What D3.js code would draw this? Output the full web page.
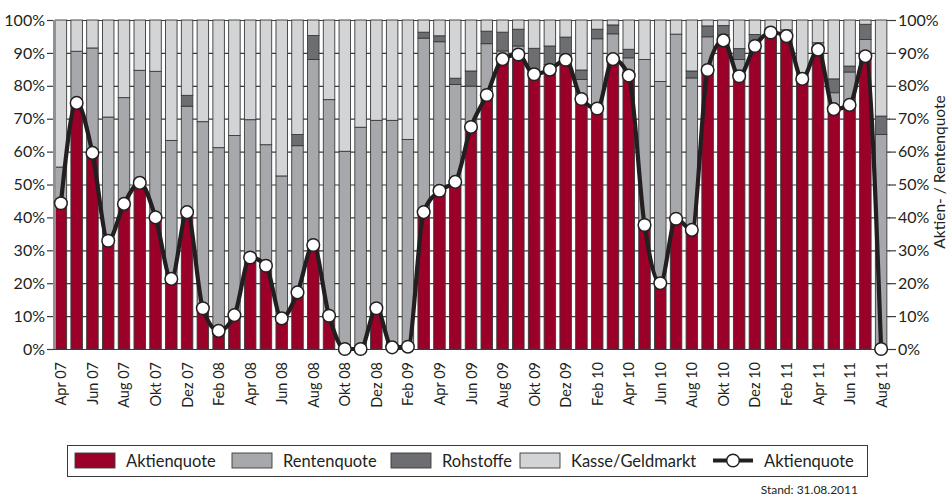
<!DOCTYPE html>
<html>
<head>
<meta charset="utf-8">
<script src="https://cdn.jsdelivr.net/npm/d3@7"></script>
<style>
  body { margin: 0; background: #fff; }
  svg text { font-family: Lato, "Open Sans", sans-serif; fill: #231f20; }
</style>
</head>
<body>
<div id="chart"></div>
<script>
// monthly values, Apr 07 .. Aug 11
var months = ["Apr 07","Mai 07","Jun 07","Jul 07","Aug 07","Sep 07","Okt 07","Nov 07","Dez 07",
  "Jan 08","Feb 08","Mrz 08","Apr 08","Mai 08","Jun 08","Jul 08","Aug 08","Sep 08","Okt 08","Nov 08","Dez 08",
  "Jan 09","Feb 09","Mrz 09","Apr 09","Mai 09","Jun 09","Jul 09","Aug 09","Sep 09","Okt 09","Nov 09","Dez 09",
  "Jan 10","Feb 10","Mrz 10","Apr 10","Mai 10","Jun 10","Jul 10","Aug 10","Sep 10","Okt 10","Nov 10","Dez 10",
  "Jan 11","Feb 11","Mrz 11","Apr 11","Mai 11","Jun 11","Jul 11","Aug 11"];

var aktien = [44.3,74.8,59.6,32.9,44.1,50.5,40.0,21.3,41.6,
  12.4,5.5,10.3,27.8,25.3,9.3,17.2,31.6,10.1,0,0,12.4,
  0.5,0.7,41.6,48.1,50.8,67.5,77.2,88.1,89.5,83.5,84.9,87.9,
  76.0,73.1,88.1,83.1,37.7,20.0,39.6,36.2,84.8,93.8,82.9,92.1,
  96.2,95.1,82.1,91.0,72.9,74.2,89.0,0];

var renten = [11.0,15.7,31.9,37.6,32.3,34.2,44.4,42.1,32.2,
  56.7,55.7,54.6,41.9,36.8,43.3,44.6,56.4,65.7,60.1,67.4,57.1,
  69.0,63.0,52.9,45.3,29.6,12.4,15.6,2.5,2.6,1.0,1.6,0.6,
  5.9,21.2,7.7,5.4,50.3,61.3,56.1,46.2,10.1,1.7,5.1,1.0,
  1.3,1.9,1.0,2.1,5.0,10.0,5.1,65.2];

var rohstoffe = [0,0,0,0,0,0,0,0,3.3,
  0,0,0,0,0,0,3.4,7.3,0,0,0,0,
  0,0,1.8,1.8,1.9,4.6,3.8,5.7,5.1,6.9,5.6,6.3,
  2.9,2.9,2.7,2.6,0,0,0,2.1,3.3,2.8,3.3,2.5,
  0,0,0,0,4.2,1.8,4.6,5.6];

var kasse = [44.7,9.5,8.5,29.5,23.6,15.3,15.6,36.6,22.9,
  30.9,38.8,35.1,30.3,37.9,47.4,34.8,4.7,24.2,39.9,32.6,30.5,
  30.5,36.3,3.7,4.8,17.7,15.5,3.4,3.7,2.8,8.6,7.9,5.2,
  15.2,2.8,1.5,8.9,12.0,18.7,4.3,15.5,1.8,1.7,8.7,4.4,
  2.5,3.0,16.9,6.9,17.9,14.0,1.3,29.2];

var seriesNames = ["Aktienquote","Rentenquote","Rohstoffe","Kasse/Geldmarkt"];
var seriesColors = ["#9b0029","#a6a8ab","#6d6e71","#d3d4d6"];
var yTicks = [0,10,20,30,40,50,60,70,80,90,100];

var width = 952, height = 498;
var svg = d3.select("#chart").append("svg")
  .attr("width", width)
  .attr("height", height);

var x = d3.scaleBand()
  .domain(months)
  .range([53, 889])
  .paddingInner(0.27)
  .paddingOuter(0.135);

var y = d3.scaleLinear()
  .domain([0, 100])
  .range([349, 20]);

// gridlines behind the bars
svg.append("g")
  .selectAll("line")
  .data(yTicks)
  .enter()
  .append("line")
  .attr("x1", 53).attr("x2", 890)
  .attr("y1", function (d) { return y(d) + 0.5; })
  .attr("y2", function (d) { return y(d) + 0.5; })
  .style("stroke", "#3b3b3b")
  .style("stroke-width", 1.2);

// stacked bars
var table = months.map(function (m, i) {
  return { month: m, a: aktien[i], r: renten[i], s: rohstoffe[i], k: kasse[i] };
});
var stack = d3.stack().keys(["a","r","s","k"])(table);

svg.append("g")
  .selectAll("g")
  .data(stack)
  .enter()
  .append("g")
  .style("fill", function (d, i) { return seriesColors[i]; })
  .selectAll("rect")
  .data(function (d) { return d.filter(function (p) { return p[1] - p[0] > 0; }); })
  .enter()
  .append("rect")
  .attr("x", function (d) { return x(d.data.month); })
  .attr("width", x.bandwidth())
  .attr("y", function (d) { return y(d[1]); })
  .attr("height", function (d) { return y(d[0]) - y(d[1]); })
  .style("stroke", "#3a3a3a")
  .style("stroke-width", 0.9);

// left axis line
svg.append("line")
  .attr("x1", 54.5).attr("x2", 54.5)
  .attr("y1", y(100)).attr("y2", y(0))
  .style("stroke", "#8f9194")
  .style("stroke-width", 3);

// axes
var fmt = function (d) { return d + "%"; };
var leftAxis = svg.append("g")
  .attr("transform", "translate(53,0)")
  .call(d3.axisLeft(y).tickValues(yTicks).tickFormat(fmt).tickSize(6).tickPadding(2));
var rightAxis = svg.append("g")
  .attr("transform", "translate(889,0)")
  .call(d3.axisRight(y).tickValues(yTicks).tickFormat(fmt).tickSize(7).tickPadding(2));
[leftAxis, rightAxis].forEach(function (ax) {
  ax.select(".domain").remove();
  ax.selectAll("line").style("stroke", "#3b3b3b").style("stroke-width", 1.2);
  ax.selectAll("text").style("font-size", "16px").style("fill", "#231f20");
});

var xAxis = svg.append("g")
  .attr("transform", "translate(0,349)")
  .call(d3.axisBottom(x)
    .tickValues(months.filter(function (d, i) { return i % 2 === 0; }))
    .tickSize(0));
xAxis.select(".domain").remove();
xAxis.selectAll("text")
  .style("font-size", "14.5px")
  .style("fill", "#231f20")
  .style("text-anchor", "end")
  .attr("dx", "-13")
  .attr("dy", "0")
  .attr("transform", "rotate(-90)")
  .attr("x", 0).attr("y", 0)
  .attr("dominant-baseline", "central");

// Aktienquote line
var line = d3.line()
  .x(function (d, i) { return x(months[i]) + x.bandwidth() / 2; })
  .y(function (d) { return y(d); })
  .curve(d3.curveMonotoneX);

svg.append("path")
  .datum(aktien)
  .attr("d", line)
  .style("fill", "none")
  .style("stroke", "#231f20")
  .style("stroke-width", 4.2);

svg.append("g")
  .selectAll("circle")
  .data(aktien)
  .enter()
  .append("circle")
  .attr("cx", function (d, i) { return x(months[i]) + x.bandwidth() / 2; })
  .attr("cy", function (d) { return y(d); })
  .attr("r", 6.3)
  .style("fill", "#fff")
  .style("stroke", "#231f20")
  .style("stroke-width", 1.5);

// right axis title
svg.append("text")
  .attr("transform", "translate(945,172) rotate(-90)")
  .attr("text-anchor", "middle")
  .style("font-size", "15.5px")
  .text("Aktien- / Rentenquote");

// legend
var legend = svg.append("g");
legend.append("rect")
  .attr("x", 67.5).attr("y", 445.5)
  .attr("width", 800).attr("height", 31)
  .style("fill", "#fff")
  .style("stroke", "#3a3a3a")
  .style("stroke-width", 1);

var swatchX = [75, 232, 391, 520];
seriesNames.forEach(function (name, i) {
  legend.append("rect")
    .attr("x", swatchX[i]).attr("y", 453)
    .attr("width", 40).attr("height", 15)
    .style("fill", seriesColors[i])
    .style("stroke", "#3a3a3a")
    .style("stroke-width", 0.9);
  legend.append("text")
    .attr("x", swatchX[i] + 51).attr("y", 466.5)
    .style("font-size", "16.5px")
    .text(name);
});
legend.append("line")
  .attr("x1", 713).attr("x2", 753)
  .attr("y1", 460.5).attr("y2", 460.5)
  .style("stroke", "#231f20")
  .style("stroke-width", 4.2);
legend.append("circle")
  .attr("cx", 733).attr("cy", 460.5).attr("r", 6.3)
  .style("fill", "#fff")
  .style("stroke", "#231f20")
  .style("stroke-width", 1.5);
legend.append("text")
  .attr("x", 764).attr("y", 466.5)
  .style("font-size", "16.5px")
  .text("Aktienquote");

svg.append("text")
  .attr("x", 858).attr("y", 494)
  .attr("text-anchor", "end")
  .style("font-size", "12px")
  .text("Stand: 31.08.2011");
</script>
</body>
</html>
